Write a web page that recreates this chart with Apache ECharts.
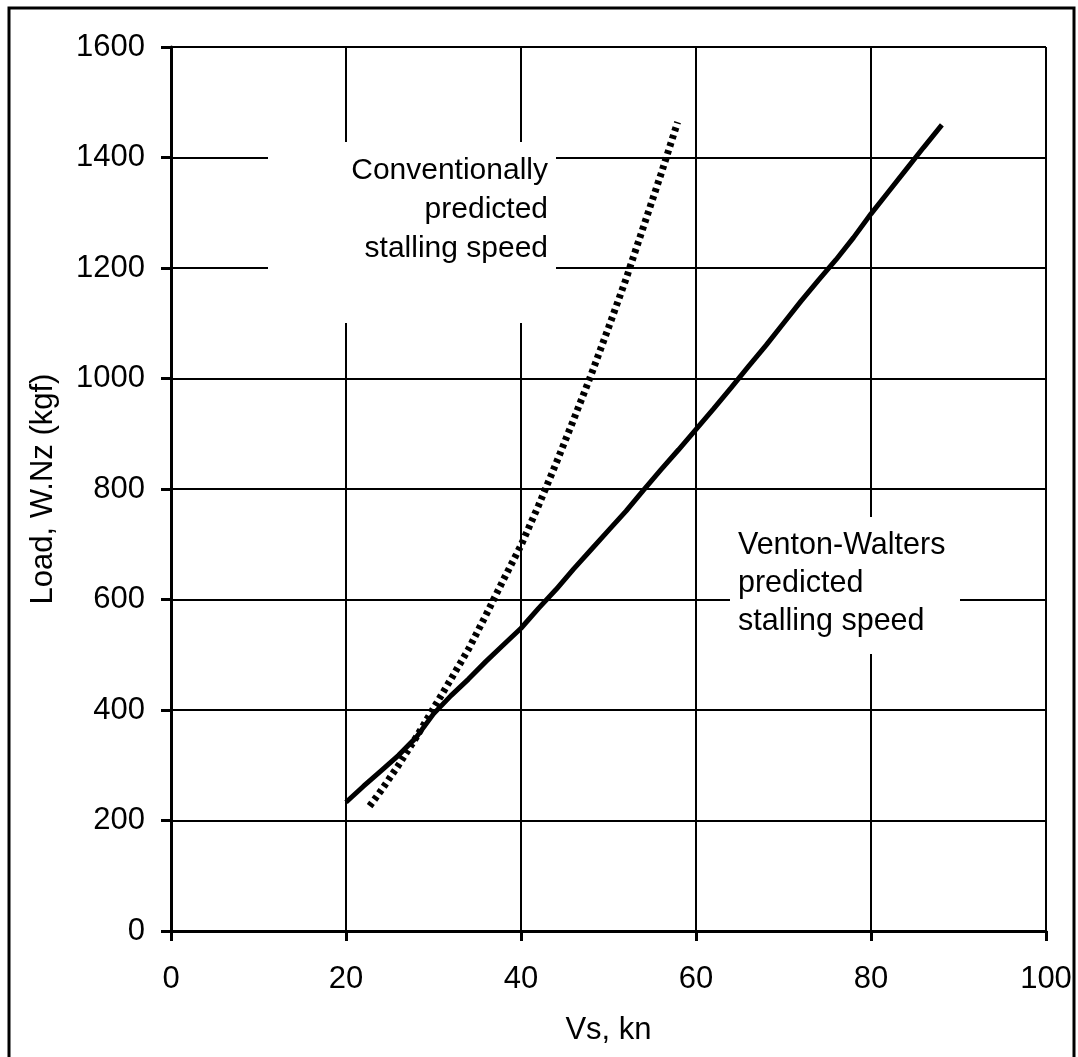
<!DOCTYPE html>
<html>
<head>
<meta charset="utf-8">
<script src="https://cdn.jsdelivr.net/npm/echarts@6/dist/echarts.min.js"></script>
<style>
  html, body { margin: 0; padding: 0; background: #fff; }
  #chart { width: 1078px; height: 1057px; }
</style>
</head>
<body>
<div id="chart"></div>
<script>
// Stalling speed (kn) against load W.Nz (kgf)
const xTicks = [0, 20, 40, 60, 80, 100];
const yTicks = [0, 200, 400, 600, 800, 1000, 1200, 1400, 1600];

// Venton-Walters predicted stalling speed
const ventonSpeed = [20, 22, 24, 26, 28, 30, 32, 34, 36, 38, 40, 42, 44, 46, 48, 50, 52, 54, 56, 58, 60, 62, 64, 66, 68, 70, 72, 74, 76, 78, 80, 82, 84, 86, 88.1];
const ventonLoad  = [233, 262, 290, 318, 350, 393, 426, 456, 488, 518, 548, 584, 618, 655, 690, 725, 760, 798, 835, 871, 908, 945, 983, 1022, 1060, 1100, 1140, 1178, 1215, 1255, 1298, 1338, 1378, 1418, 1459];

// Conventionally predicted stalling speed
const convSpeed = [22.7, 24, 26, 28, 30, 32, 34, 36, 38, 40, 42, 44, 46, 48, 50, 52, 54, 56, 57.9];
const convLoad  = [226, 254, 300, 350, 403, 456, 510, 572, 636, 698, 770, 846, 925, 1006, 1092, 1180, 1275, 1370, 1464];

const toPairs = (xs, ys) => xs.map((x, i) => [x, ys[i]]);

const FONT = '"Liberation Sans", Arial, Helvetica, sans-serif';
const plain = v => String(v);

const chart = echarts.init(document.getElementById('chart'));
chart.setOption({
  animation: false,
  backgroundColor: '#fff',
  grid: { left: 171, right: 32, top: 47, bottom: 126, containLabel: false },
  xAxis: {
    type: 'value',
    min: xTicks[0], max: xTicks[xTicks.length - 1], interval: 20,
    name: 'Vs, kn',
    nameLocation: 'middle',
    nameGap: 84,
    nameTextStyle: { fontFamily: FONT, fontSize: 31, color: '#000' },
    axisLine: { show: true, onZero: false, lineStyle: { color: '#000', width: 3 } },
    axisTick: { show: true, inside: false, length: 10, lineStyle: { color: '#000', width: 3 } },
    axisLabel: { fontFamily: FONT, fontSize: 31, color: '#000', margin: 33, formatter: plain },
    splitLine: { show: true, lineStyle: { color: '#000', width: 2 } }
  },
  yAxis: {
    type: 'value',
    min: yTicks[0], max: yTicks[yTicks.length - 1], interval: 200,
    name: 'Load, W.Nz (kgf)',
    nameLocation: 'middle',
    nameGap: 112,
    nameRotate: 90,
    nameTextStyle: { fontFamily: FONT, fontSize: 31, color: '#000' },
    axisLine: { show: true, onZero: false, lineStyle: { color: '#000', width: 3 } },
    axisTick: { show: true, inside: false, length: 10, lineStyle: { color: '#000', width: 3 } },
    axisLabel: { fontFamily: FONT, fontSize: 31, color: '#000', margin: 26, formatter: plain },
    splitLine: { show: true, lineStyle: { color: '#000', width: 2 } }
  },
  graphic: [
    // outer frame
    {
      type: 'rect', z: 100, silent: true,
      shape: { x: 9, y: 8, width: 1065, height: 1062 },
      style: { fill: 'none', stroke: '#000', lineWidth: 3 }
    },
    // annotation: conventional curve
    {
      type: 'rect', z: 10, silent: true,
      shape: { x: 268, y: 142, width: 288, height: 181 },
      style: { fill: '#fff' }
    },
    {
      type: 'text', z: 11, silent: true,
      x: 548, y: 151,
      style: {
        text: 'Conventionally\npredicted\nstalling speed',
        fontFamily: FONT, fontSize: 30, lineHeight: 39,
        fill: '#000', align: 'right', verticalAlign: 'top'
      }
    },
    // annotation: Venton-Walters curve
    {
      type: 'rect', z: 10, silent: true,
      shape: { x: 730, y: 517, width: 230, height: 137 },
      style: { fill: '#fff' }
    },
    {
      type: 'text', z: 11, silent: true,
      x: 738, y: 527,
      style: {
        text: 'Venton-Walters\npredicted\nstalling speed',
        fontFamily: FONT, fontSize: 30.5, lineHeight: 38,
        fill: '#000', align: 'left', verticalAlign: 'top'
      }
    }
  ],
  series: [
    {
      name: 'Conventionally predicted stalling speed',
      type: 'line',
      data: toPairs(convSpeed, convLoad),
      showSymbol: false,
      smooth: false,
      z: 20,
      lineStyle: { color: '#000', width: 7, type: [4, 4] }
    },
    {
      name: 'Venton-Walters predicted stalling speed',
      type: 'line',
      data: toPairs(ventonSpeed, ventonLoad),
      showSymbol: false,
      smooth: false,
      z: 20,
      lineStyle: { color: '#000', width: 5 }
    }
  ]
});
</script>
</body>
</html>
